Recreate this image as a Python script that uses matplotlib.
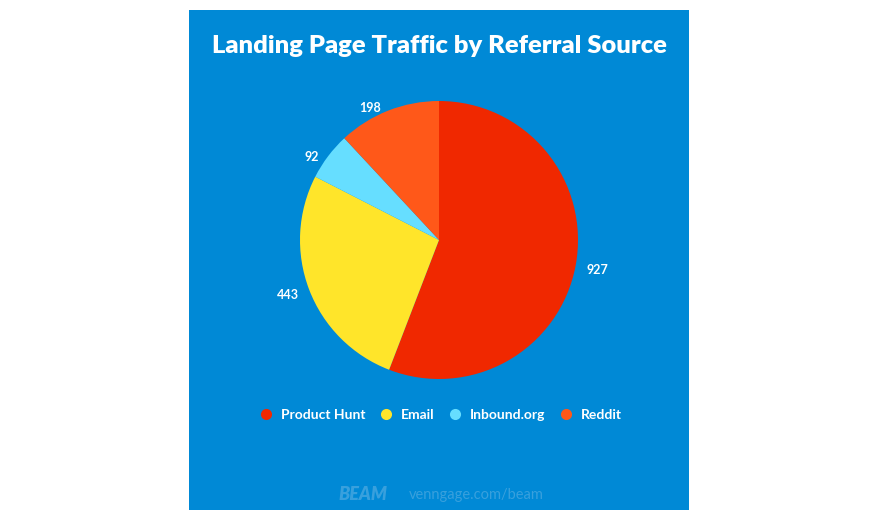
import numpy as np
import matplotlib.pyplot as plt
from matplotlib.patches import Rectangle
from matplotlib.lines import Line2D

# Datos del gráfico
sources = ['Product Hunt', 'Email', 'Inbound.org', 'Reddit']
visits = [927, 443, 92, 198]
colors = ['#F02800', '#FFE52A', '#66DEFF', '#FF5819']

# ajustes de posición de las etiquetas (radio, giro en grados)
label_radius = [1.16, 1.16, 1.09, 1.07]
label_shift = [-0.2, -0.9, 3.9, 6.1]

panel_color = '#0089D6'
title_font = ['Lato', 'DejaVu Sans']
text_font = ['Lato', 'DejaVu Sans']

fig = plt.figure(figsize=(8.8, 5.2), dpi=100)
fig.patch.set_facecolor('white')

# Panel azul de fondo
fig.patches.append(Rectangle((189 / 880, 10 / 520), 500 / 880, 500 / 520,
                             transform=fig.transFigure, facecolor=panel_color,
                             edgecolor='none', zorder=-5))

title = fig.text(439 / 880, 1 - 46 / 520, 'Landing Page Traffic by Referral Source',
                 ha='center', va='center', color='white', fontsize=20,
                 fontweight='heavy', family=title_font)
# ajustar el tamaño para que el título ocupe ~454 px de ancho
renderer = fig.canvas.get_renderer()
w = title.get_window_extent(renderer).width
title.set_fontsize(20 * 454 / w)

# Pastel
r = 139
ax = fig.add_axes([(439 - r) / 880, (520 - 240 - r) / 520, 2 * r / 880, 2 * r / 520],
                  zorder=2)
ax.set_facecolor('none')
wedges, texts = ax.pie(visits, colors=colors, labels=[str(v) for v in visits],
                       startangle=90, counterclock=False, radius=1,
                       wedgeprops=dict(edgecolor='none'),
                       textprops=dict(color='white', fontsize=9,
                                      fontweight='bold', family=text_font))
for wdg, t, rr, sh in zip(wedges, texts, label_radius, label_shift):
    ang = np.deg2rad((wdg.theta1 + wdg.theta2) / 2 + sh)
    t.set_position((rr * np.cos(ang), rr * np.sin(ang)))
    t.set_ha('center')
    t.set_va('center')
ax.set_xlim(-1, 1)
ax.set_ylim(-1, 1)
ax.set_aspect('auto')
ax.axis('off')

# Leyenda
handles = [Line2D([], [], marker='o', linestyle='none', markersize=8,
                  markerfacecolor=c, markeredgecolor='none') for c in colors]
leg = fig.legend(handles, sources, loc='center', ncol=4,
                 bbox_to_anchor=(437 / 880, 1 - 415 / 520),
                 frameon=False, handletextpad=0.1, columnspacing=0.47,
                 prop=dict(family=text_font, weight='bold', size=10))
leg.set_zorder(3)
for t in leg.get_texts():
    t.set_color('white')

# Pie de página
fig.text(363 / 880, 1 - 495 / 520, 'BEAM', ha='center', va='center',
         color='#38A0DD', fontsize=13, fontweight='heavy', style='italic',
         family=text_font)
fig.text(476 / 880, 1 - 495 / 520, 'venngage.com/beam', ha='center', va='center',
         color='#38A0DD', fontsize=10.5, family=text_font)

fig.savefig('out.png', dpi=100, facecolor=fig.get_facecolor())
